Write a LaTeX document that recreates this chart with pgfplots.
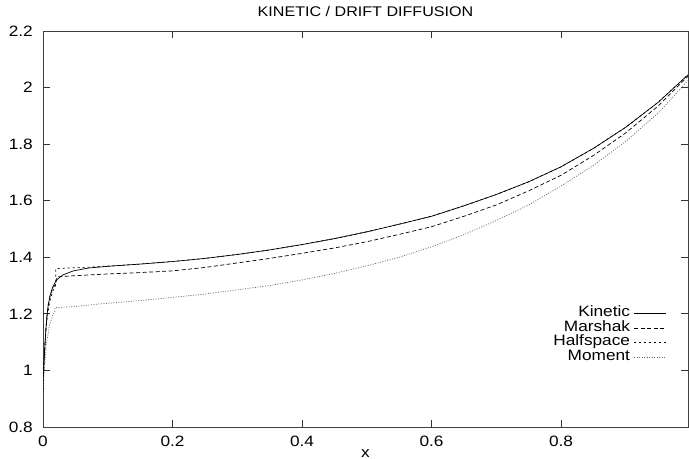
\documentclass[border=0pt]{standalone}
\usepackage{fontspec}
\setmainfont{Liberation Sans}[FakeStretch=1.15]
\usepackage{pgfplots}
\pgfplotsset{compat=1.18}

\begin{document}
\begin{tikzpicture}[font=\fontsize{15pt}{17pt}\selectfont]
\begin{axis}[
  name=ax,
  scale only axis,
  width=645pt, height=396pt,
  xmin=0, xmax=0.996,
  ymin=0.8, ymax=2.2,
  xtick={0,0.2,0.4,0.6,0.8},
  ytick={0.8,1,1.2,1.4,1.6,1.8,2,2.2},
  major tick length=7pt,
  tick style={black!80,line width=0.9pt},
  axis line style={draw=black!75,line width=0.9pt},
  /pgf/number format/assume math mode=true,
  xticklabel style={anchor=base,yshift=-19pt},
  yticklabel style={anchor=east,inner sep=0pt,xshift=-10pt},
  title={KINETIC / DRIFT DIFFUSION},
  title style={at={(axis description cs:0.5,1)},anchor=base,yshift=8pt,
    font=\fontsize{14pt}{16pt}\selectfont},
  xlabel={x},
  xlabel style={at={(axis description cs:0.5,0)},anchor=base,yshift=-30.5pt},
  legend plot pos=right,
  legend cell align=right,
  legend style={draw=none,fill=none,at={(axis description cs:0.972,0.31)},anchor=north east,
    row sep=0pt,
    nodes={inner xsep=4pt,inner ysep=1.25pt,text height=9pt,text depth=3pt}},
  legend image code/.code={\draw[#1] (0pt,0pt) -- (32pt,0pt);},
]
% tick marks, gnuplot style, on all four sides
\addplot[black!80,line width=0.9pt,forget plot] coordinates {(0.2,0.8) (0.2,0.825)};
\addplot[black!80,line width=0.9pt,forget plot] coordinates {(0.4,0.8) (0.4,0.825)};
\addplot[black!80,line width=0.9pt,forget plot] coordinates {(0.6,0.8) (0.6,0.825)};
\addplot[black!80,line width=0.9pt,forget plot] coordinates {(0.8,0.8) (0.8,0.825)};
\addplot[black!80,line width=0.9pt,forget plot] coordinates {(0.2,2.2) (0.2,2.175)};
\addplot[black!80,line width=0.9pt,forget plot] coordinates {(0.4,2.2) (0.4,2.175)};
\addplot[black!80,line width=0.9pt,forget plot] coordinates {(0.6,2.2) (0.6,2.175)};
\addplot[black!80,line width=0.9pt,forget plot] coordinates {(0.8,2.2) (0.8,2.175)};
\addplot[black!80,line width=0.9pt,forget plot] coordinates {(0,1) (0.0108,1)};
\addplot[black!80,line width=0.9pt,forget plot] coordinates {(0,1.2) (0.0108,1.2)};
\addplot[black!80,line width=0.9pt,forget plot] coordinates {(0,1.4) (0.0108,1.4)};
\addplot[black!80,line width=0.9pt,forget plot] coordinates {(0,1.6) (0.0108,1.6)};
\addplot[black!80,line width=0.9pt,forget plot] coordinates {(0,1.8) (0.0108,1.8)};
\addplot[black!80,line width=0.9pt,forget plot] coordinates {(0,2) (0.0108,2)};
\addplot[black!80,line width=0.9pt,forget plot] coordinates {(0.996,1) (0.985,1)};
\addplot[black!80,line width=0.9pt,forget plot] coordinates {(0.996,1.2) (0.985,1.2)};
\addplot[black!80,line width=0.9pt,forget plot] coordinates {(0.996,1.4) (0.985,1.4)};
\addplot[black!80,line width=0.9pt,forget plot] coordinates {(0.996,1.6) (0.985,1.6)};
\addplot[black!80,line width=0.9pt,forget plot] coordinates {(0.996,1.8) (0.985,1.8)};
\addplot[black!80,line width=0.9pt,forget plot] coordinates {(0.996,2) (0.985,2)};
% Kinetic
\addplot[black,line width=0.7pt] coordinates {
  (0,0.93) (0.001,1.0) (0.002,1.05) (0.004,1.13) (0.006,1.19) (0.008,1.23)
  (0.011,1.265) (0.015,1.295) (0.021,1.32) (0.031,1.338) (0.047,1.352)
  (0.07,1.362) (0.1,1.368) (0.15,1.376) (0.2,1.385) (0.25,1.396) (0.3,1.41)
  (0.35,1.426) (0.4,1.445) (0.45,1.466) (0.5,1.49) (0.55,1.517) (0.6,1.545)
  (0.65,1.582) (0.7,1.622) (0.75,1.667) (0.8,1.72) (0.85,1.785) (0.9,1.86)
  (0.95,1.948) (0.996,2.045)
};
\addlegendentry{Kinetic}
% Marshak
\addplot[black,line width=0.7pt,dash pattern=on 4pt off 2.5pt] coordinates {
  (0,0.93) (0.001,1.0) (0.002,1.05) (0.004,1.13) (0.006,1.19) (0.008,1.23)
  (0.011,1.265) (0.015,1.29) (0.021,1.31) (0.0212,1.331) (0.05,1.335)
  (0.1,1.341) (0.15,1.346) (0.2,1.352) (0.25,1.364) (0.3,1.38) (0.35,1.396)
  (0.4,1.414) (0.45,1.433) (0.5,1.455) (0.55,1.481) (0.6,1.508) (0.65,1.545)
  (0.7,1.585) (0.75,1.635) (0.8,1.69) (0.85,1.76) (0.9,1.84) (0.95,1.935)
  (0.996,2.04)
};
\addlegendentry{Marshak}
% Halfspace
\addplot[black,line width=0.7pt,dash pattern=on 2pt off 3pt] coordinates {
  (0,0.93) (0.002,1.05) (0.005,1.16) (0.01,1.24) (0.015,1.28) (0.0195,1.30)
  (0.0196,1.36) (0.04,1.362) (0.07,1.365) (0.1,1.369) (0.15,1.376)
  (0.2,1.385) (0.25,1.396) (0.3,1.41) (0.35,1.426) (0.4,1.445) (0.45,1.466)
  (0.5,1.49) (0.55,1.517) (0.6,1.545) (0.65,1.582) (0.7,1.622) (0.75,1.667)
  (0.8,1.72) (0.85,1.785) (0.9,1.86) (0.95,1.948) (0.996,2.045)
};
\addlegendentry{Halfspace}
% Moment
\addplot[black!60,line width=0.7pt,dash pattern=on 1pt off 1.5pt] coordinates {
  (0,0.93) (0.002,1.0) (0.005,1.09) (0.01,1.16) (0.015,1.195) (0.0185,1.21)
  (0.0187,1.222) (0.05,1.226) (0.088,1.235) (0.15,1.247) (0.2,1.258)
  (0.25,1.27) (0.3,1.285) (0.35,1.30) (0.4,1.32) (0.45,1.343) (0.5,1.37)
  (0.55,1.40) (0.6,1.437) (0.65,1.48) (0.7,1.53) (0.75,1.585) (0.8,1.652)
  (0.85,1.725) (0.9,1.81) (0.95,1.91) (0.996,2.025)
};
\addlegendentry{Moment}
\end{axis}
\pgfresetboundingbox
\path ([shift={(-43pt,-31pt)}]ax.south west) rectangle ([shift={(1pt,31pt)}]ax.north east);
\end{tikzpicture}
\end{document}
